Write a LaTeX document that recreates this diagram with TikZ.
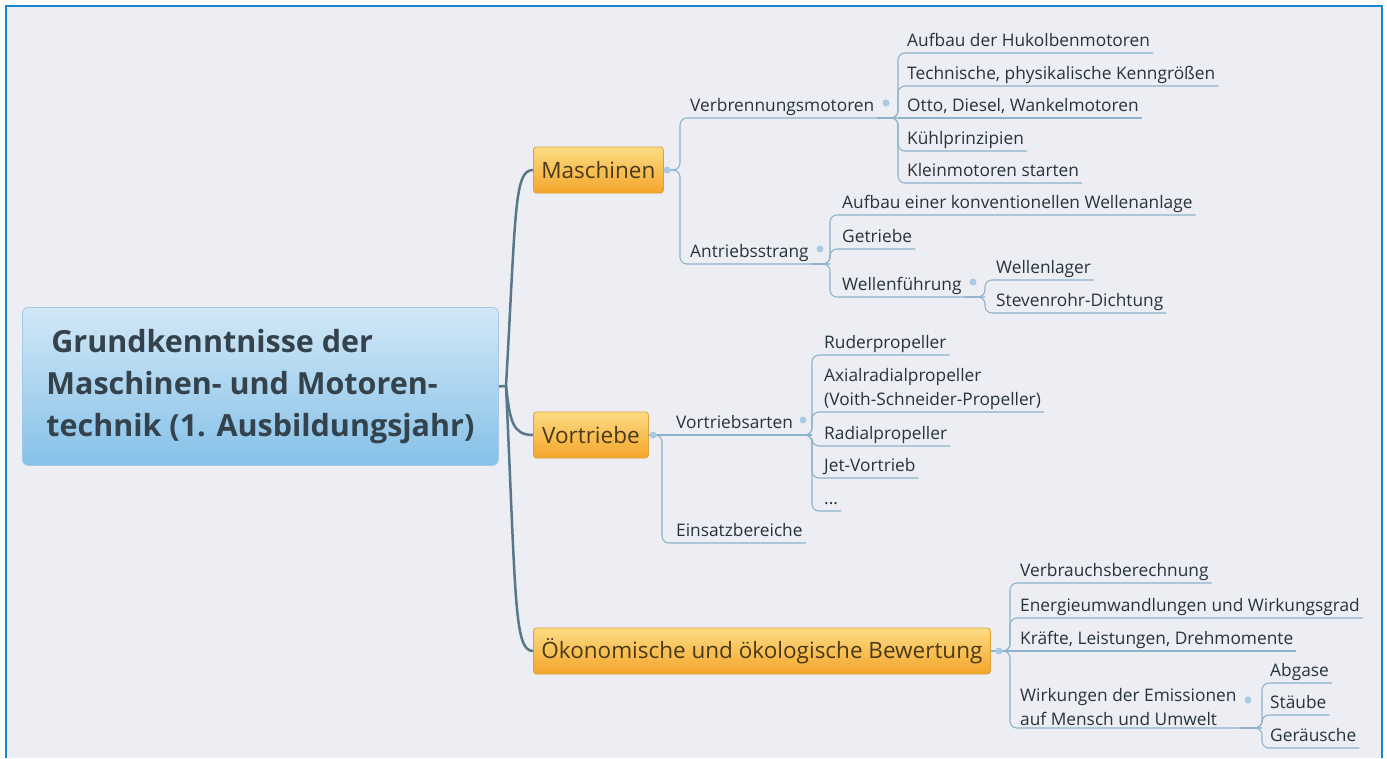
\documentclass[tikz,border=0pt]{standalone}
\usepackage{fontspec}
\setmainfont{Open Sans}
\definecolor{bgc}{HTML}{EDEEF3}
\definecolor{framec}{HTML}{1A86CF}
\definecolor{linec}{HTML}{8DB3CB}
\definecolor{trunkc}{HTML}{56788A}
\definecolor{textc}{HTML}{26333C}
\definecolor{topictext}{HTML}{4A3A18}
\definecolor{orangetop}{HTML}{FDDC84}
\definecolor{orangebot}{HTML}{F4A52A}
\definecolor{orangeb}{HTML}{D9A23A}
\definecolor{bluetop}{HTML}{D2E8F7}
\definecolor{bluebot}{HTML}{86C1E8}
\definecolor{blueb}{HTML}{A3C9E4}
\definecolor{dotc}{HTML}{A9CAE2}
\definecolor{centraltext}{HTML}{34424C}
\begin{document}
\begin{tikzpicture}[x=1pt,y=-1pt,
  conn/.style={draw=linec, line width=1.1pt, rounded corners=7pt},
  trunk/.style={draw=trunkc, line width=2.5pt},
  lblbase/.style={font=\fontsize{17.3}{24}\selectfont, text=textc, inner xsep=3pt, inner ysep=2.5pt, anchor=south west, align=left},
  lbl/.style={lblbase, text height=13pt, text depth=4pt},
  topic/.style={font=\fontsize{22.5}{26}\selectfont, text=topictext, rounded corners=3pt, draw=orangeb, line width=0.8pt, top color=orangetop, bottom color=orangebot, minimum height=46pt, inner xsep=8pt, anchor=west},
  central/.style={font=\fontsize{30.5}{42}\selectfont\bfseries, text=centraltext, rounded corners=6pt, draw=blueb, line width=0.8pt, top color=bluetop, bottom color=bluebot, minimum width=476pt, minimum height=158pt, anchor=north west, align=left},
  dot/.style={circle, fill=dotc, inner sep=0pt, minimum size=7pt},
]
\useasboundingbox (0,0) rectangle (1387,758);
\fill[white] (0,0) rectangle (1387,758);
\fill[bgc] (6,6) rectangle (1382,758);
\draw[framec, line width=2.5pt] (6,758) -- (6,6) -- (1382,6) -- (1382,758);

% central topic
\node[central] (C) at (22,307) {\hspace*{5pt}Grundkenntnisse der\\Maschinen- und Motoren-\\technik (1. Ausbildungsjahr)};

% main topics
\node[topic, minimum width=129pt] (M) at (533,170) {Maschinen};
\node[topic, minimum width=115pt] (V) at (533,435) {Vortriebe};
\node[topic] (O) at (533,651) {Ökonomische und ökologische Bewertung};

% Maschinen subtree
\node[lbl] (vm) at (687,118) {Verbrennungsmotoren};
\node[lbl] (an) at (687,264) {Antriebsstrang};
\node[lbl] (c1) at (904,53) {Aufbau der Hukolbenmotoren};
\node[lbl] (c2) at (904,86) {Technische, physikalische Kenngrößen};
\node[lbl] (c3) at (904,118) {Otto, Diesel, Wankelmotoren};
\node[lbl] (c4) at (904,151) {Kühlprinzipien};
\node[lbl] (c5) at (904,183) {Kleinmotoren starten};
\node[lbl] (a1) at (839,215) {Aufbau einer konventionellen Wellenanlage};
\node[lbl] (a2) at (839,249) {Getriebe};
\node[lbl] (a3) at (839,297) {Wellenführung};
\node[lbl] (w1) at (993,280) {Wellenlager};
\node[lbl] (w2) at (993,313) {Stevenrohr-Dichtung};

% Vortriebe subtree
\node[lbl] (va) at (673,435) {Vortriebsarten};
\node[lbl] (ve) at (673,543) {Einsatzbereiche};
\node[lbl] (r1) at (821,355) {Ruderpropeller};
\node[lblbase] (r2) at (821,412) {Axialradialpropeller\\(Voith-Schneider-Propeller)};
\node[lbl] (r3) at (821,446) {Radialpropeller};
\node[lbl] (r4) at (821,478) {Jet-Vortrieb};
\node[lbl] (r5) at (821,511) {...};

% Bewertung subtree
\node[lbl] (o1) at (1017,583) {Verbrauchsberechnung};
\node[lbl] (o2) at (1017,618) {Energieumwandlungen und Wirkungsgrad};
\node[lbl] (o3) at (1017,651) {Kräfte, Leistungen, Drehmomente};
\node[lblbase] (o4) at (1017,728) {Wirkungen der Emissionen\\auf Mensch und Umwelt};
\node[lbl] (e1) at (1267,683) {Abgase};
\node[lbl] (e2) at (1267,715) {Stäube};
\node[lbl] (e3) at (1267,748) {Geräusche};

% junction coordinates
\coordinate (cj) at (506,386);
\coordinate (mj) at (680,170);
\coordinate (vmj) at (898,118);
\coordinate (anj) at (830,264);
\coordinate (a3j) at (985,297);
\coordinate (vj) at (662,435);
\coordinate (vaj) at (812,435);
\coordinate (oj) at (1010,651);
\coordinate (o4j) at (1262,728);

% trunk
\draw[trunk] (C.east) -- (cj) .. controls (516,210) and (514,170) .. (M.west);
\draw[trunk] (cj) .. controls (510,420) and (512,435) .. (V.west);
\draw[trunk] (cj) .. controls (516,600) and (514,651) .. (O.west);

% Maschinen connectors
\draw[conn] (M.east) -- (mj) -- (mj |- vm.south) -- (vmj);
\draw[conn] (M.east) -- (mj) -- (mj |- an.south) -- (anj);
\foreach \c in {c1,c2,c4,c5}
  \draw[conn] (vm.south east) -- (vmj) -- (vmj |- \c.south) -- (\c.south east);
\draw[conn] (vmj) -- (c3.south east);
\foreach \c in {a1,a2}
  \draw[conn] (an.south east) -- (anj) -- (anj |- \c.south) -- (\c.south east);
\draw[conn] (an.south east) -- (anj) -- (anj |- a3.south) -- (a3j);
\foreach \c in {w1,w2}
  \draw[conn] (a3.south east) -- (a3j) -- (a3j |- \c.south) -- (\c.south east);

% Vortriebe connectors
\draw[conn] (V.east) -- (vaj);
\draw[conn] (V.east) -- (vj) -- (vj |- ve.south) -- (ve.south east);
\foreach \c in {r1,r2,r3,r4,r5}
  \draw[conn] (va.south east) -- (vaj) -- (vaj |- \c.south) -- (\c.south east);

% Bewertung connectors
\foreach \c in {o1,o2}
  \draw[conn] (O.east) -- (oj) -- (oj |- \c.south) -- (\c.south east);
\draw[conn] (O.east) -- (o3.south east);
\draw[conn] (O.east) -- (oj) -- (oj |- o4.south) -- (o4j);
\foreach \c in {e1,e2,e3}
  \draw[conn] (o4.south east) -- (o4j) -- (o4j |- \c.south) -- (\c.south east);

% dots
\node[dot] (dM) at (667,170) {};
\node[dot] (dV) at (653,435) {};
\node[dot] (dO) at (999,651) {};
\node[dot] (dvm) at (886,103) {};
\node[dot] (dan) at (820,249) {};
\node[dot] (da3) at (973,282) {};
\node[dot] (dva) at (803,420) {};
\node[dot] (do4) at (1248,700) {};
\end{tikzpicture}
\end{document}
